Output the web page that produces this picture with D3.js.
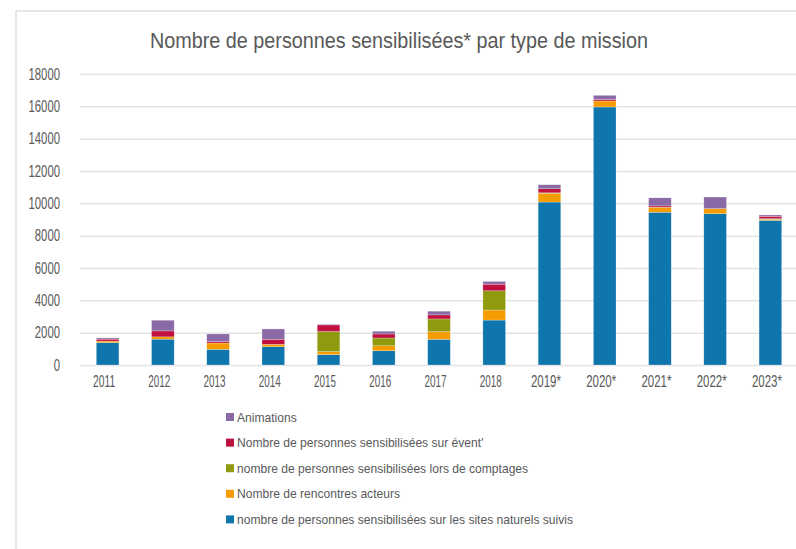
<!DOCTYPE html>
<html>
<head>
<meta charset="utf-8">
<script src="https://cdn.jsdelivr.net/npm/d3@7"></script>
<style>
  body { margin: 0; background: #fff; }
  text { font-family: 'Liberation Sans', Arial, sans-serif; fill: #595959; }
</style>
</head>
<body>
<div id="wrapper"></div>
<script>
const years = ['2011', '2012', '2013', '2014', '2015', '2016', '2017', '2018', '2019*', '2020*', '2021*', '2022*', '2023*'];
const sites = [1380, 1600, 970, 1130, 640, 880, 1590, 2780, 10080, 15960, 9450, 9360, 8950];
const acteurs = [100, 140, 390, 150, 190, 310, 470, 620, 540, 370, 310, 310, 60];
const comptages = [0, 0, 0, 0, 1240, 480, 790, 1190, 30, 0, 0, 0, 40];
const event = [120, 370, 80, 310, 410, 250, 250, 410, 250, 100, 80, 0, 150];
const animations = [70, 660, 480, 640, 40, 170, 230, 170, 250, 250, 500, 720, 80];
const yTicks = [0, 2000, 4000, 6000, 8000, 10000, 12000, 14000, 16000, 18000];

// stack order, bottom to top
const series = [
    { key: 'sites', label: 'nombre de personnes sensibilisées sur les sites naturels suivis', values: sites, color: '#0f75ad' },
    { key: 'acteurs', label: 'Nombre de rencontres acteurs', values: acteurs, color: '#f59c00' },
    { key: 'comptages', label: 'nombre de personnes sensibilisées lors de comptages', values: comptages, color: '#8f9a0e' },
    { key: 'event', label: 'Nombre de personnes sensibilisées sur évent\'', values: event, color: '#c0103f' },
    { key: 'animations', label: 'Animations', values: animations, color: '#8a6aa6' },
];

const table = years.map((y, i) => {
    const row = { year: y };
    series.forEach(s => row[s.key] = s.values[i]);
    return row;
});

const width = 796;
const height = 549;
const margin = { top: 74, right: -2, bottom: 184, left: 80 };

const svg = d3.select('#wrapper')
    .append('svg')
    .attr('width', width)
    .attr('height', height);

// frame
svg.append('path')
    .attr('d', `M16,${height} L16,11 L${width},11`)
    .attr('fill', 'none')
    .attr('stroke', '#e6e6e6')
    .attr('stroke-width', 2);

// squeeze text horizontally to a target width
function fitWidth(sel, w) {
    sel.attr('textLength', w).attr('lengthAdjust', 'spacingAndGlyphs');
}

svg.append('text')
    .attr('x', 399)
    .attr('y', 48)
    .attr('text-anchor', 'middle')
    .attr('font-size', '22px')
    .text('Nombre de personnes sensibilisées* par type de mission')
    .call(fitWidth, 498);

const xScale = d3.scaleBand()
    .domain(years)
    .range([margin.left, width - margin.right])
    .paddingInner(0.59)
    .paddingOuter(0.295);

const yScale = d3.scaleLinear()
    .domain([0, 18000])
    .range([height - margin.bottom, margin.top]);

// gridlines
const yAxis = svg.append('g')
    .attr('transform', `translate(${margin.left},0)`)
    .call(d3.axisLeft(yScale).tickValues(yTicks).tickSize(-(width - margin.left)).tickPadding(20).tickFormat(d3.format('d')));
yAxis.select('.domain').remove();
yAxis.selectAll('.tick line').attr('stroke', '#e3e3e3').attr('stroke-width', 1.5);
yAxis.selectAll('.tick text')
    .attr('font-size', '16px')
    .attr('fill', '#595959')
    .attr('font-family', 'Liberation Sans, Arial, sans-serif')
    .each(function(d) {
        const n = String(d).length;
        d3.select(this).attr('textLength', n * 6.3).attr('lengthAdjust', 'spacingAndGlyphs');
    });

const stack = d3.stack().keys(series.map(s => s.key));
const stacked = stack(table);

svg.append('g')
    .selectAll('g')
    .data(stacked)
    .join('g')
    .attr('fill', (d, i) => series[i].color)
    .selectAll('rect')
    .data(d => d)
    .join('rect')
    .attr('x', d => xScale(d.data.year))
    .attr('width', xScale.bandwidth())
    .attr('y', d => yScale(d[1]))
    .attr('height', d => yScale(d[0]) - yScale(d[1]))
    .attr('stroke', 'rgba(255,255,255,0.5)')
    .attr('stroke-width', 0.5);

const xAxis = svg.append('g')
    .attr('transform', `translate(-3.5,${height - margin.bottom})`)
    .call(d3.axisBottom(xScale).tickSize(0).tickPadding(11));
xAxis.select('.domain').remove();
xAxis.selectAll('.tick text')
    .attr('font-size', '16px')
    .attr('fill', '#595959')
    .attr('font-family', 'Liberation Sans, Arial, sans-serif')
    .each(function(d) {
        d3.select(this).attr('textLength', d.length === 4 ? 22 : 30).attr('lengthAdjust', 'spacingAndGlyphs');
    });

// legend (top to bottom is reverse stack order)
const legend = svg.append('g')
    .attr('transform', 'translate(226,417)');

const legendItems = legend.selectAll('g')
    .data(series.slice().reverse())
    .join('g')
    .attr('transform', (d, i) => `translate(0,${i * 25.6})`);

legendItems.append('rect')
    .attr('x', 0)
    .attr('y', -4)
    .attr('width', 8)
    .attr('height', 8)
    .attr('fill', d => d.color);

const legendText = legendItems.append('text')
    .attr('x', 11)
    .attr('y', 4.5)
    .attr('font-size', '13px')
    .text(d => d.label);

// scale all legend labels so the longest one spans 336px
const longest = d3.max(legendText.nodes(), n => n.getComputedTextLength());
const squeeze = 336 / longest;
legendText.each(function() {
    const w = this.getComputedTextLength();
    d3.select(this).attr('textLength', w * squeeze).attr('lengthAdjust', 'spacingAndGlyphs');
});
</script>
</body>
</html>
